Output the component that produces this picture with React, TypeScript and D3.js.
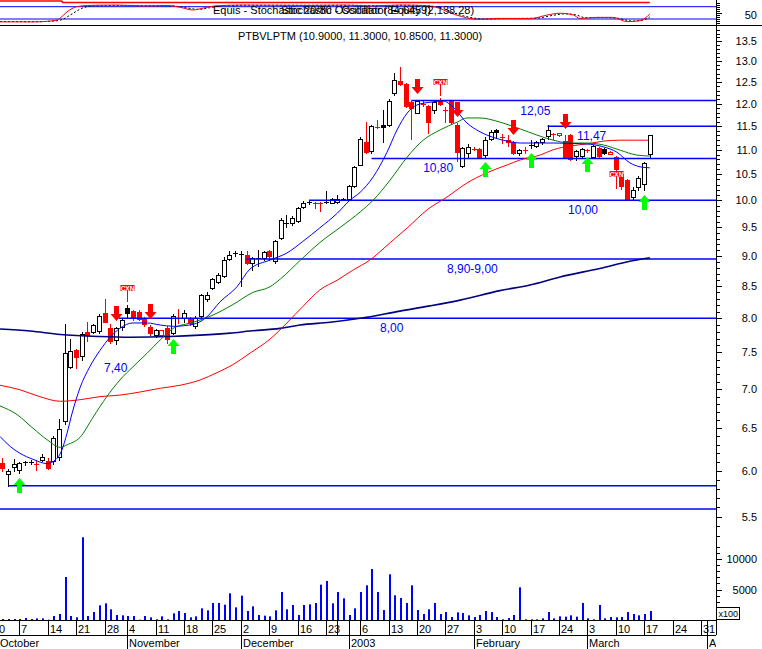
import React from 'react';
import * as d3 from 'd3';

const FONT = '"Liberation Sans", Arial, Helvetica, sans-serif';

// trading calendar
const calendarStart = '2002-09-30';
const calendarEnd = '2003-04-04';
const holidays = ['2002-11-01', '2002-12-24', '2002-12-25', '2002-12-26', '2003-01-01'];
const hiddenWeekLabels = ['2002-12-30'];
const firstBarIndex = 2; // 2002-10-02

const title = 'PTBVLPTM (10.9000, 11.3000, 10.8500, 11.3000)';
const stochTitle = 'Equis - Stochastic 20/80 - Oscillator Equity (2,138.28)';
const stochTitle2 = 'Stochastic Oscillator (84.6459)';
const monthNames = ['2003', 'February', 'March', 'April', 'May', 'June', 'July', 'August', 'September', 'October', 'November', 'December'];

const openP = [
  6.09, 5.97, 6.04, 6.01, 6.09, 6.10, 6.09, 6.12, 6.11,
  6.11, 6.15, 6.59, 7.30, 7.53, 7.45, 7.79, 7.80, 7.80, 8.08,
  7.85, 7.68, 7.88, 8.15, 8.11, 8.10, 7.99, 7.87, 7.75, 7.75,
  7.86, 7.78, 8.03, 8.00, 7.99, 7.88, 8.04, 8.30, 8.47, 8.57,
  8.67, 8.96, 9.04, 9.05, 9.02, 8.88, 8.96, 8.95, 9.08, 8.90,
  9.31, 9.59, 9.57, 9.62, 9.88, 9.95, 9.96, 9.96, 9.95, 9.96,
  9.97, 10.02, 10.03, 10.27, 10.70, 11.17, 10.96, 11.50, 11.53, 11.53,
  12.23, 12.53, 12.46, 12.04, 11.80, 12.02, 11.95, 11.86, 12.09, 11.87,
  12.06, 11.52, 10.67, 10.94, 11.03, 11.02, 10.89, 11.23, 11.42, 11.27,
  11.20, 11.17, 10.94, 11.00, 11.09, 11.08, 11.15, 11.30, 11.35, 11.30,
  11.19, 11.32, 10.86, 10.87, 11.00, 10.86, 11.03, 11.01, 10.92, 10.86,
  10.50, 10.39, 10.06, 10.24, 10.30, 10.90,
];
const highP = [
  6.14, 6.02, 6.13, 6.10, 6.11, 6.12, 6.12, 6.19, 6.14,
  6.40, 6.62, 7.92, 7.69, 7.55, 7.80, 7.95, 7.92, 8.07, 8.29,
  7.92, 7.87, 8.00, 8.20, 8.13, 8.12, 8.02, 7.90, 7.84, 7.83,
  7.88, 8.06, 8.14, 8.12, 8.02, 8.03, 8.38, 8.40, 8.63, 8.72,
  8.98, 9.09, 9.08, 9.08, 9.09, 8.98, 9.10, 9.08, 9.10, 9.27,
  9.66, 9.72, 9.70, 9.88, 9.98, 9.99, 9.97, 9.96, 10.17, 10.05,
  10.10, 10.05, 10.29, 10.66, 11.27, 11.60, 11.52, 11.63, 11.86, 12.10,
  12.71, 12.86, 12.48, 12.06, 12.08, 12.07, 11.98, 12.07, 12.12, 11.93,
  12.08, 11.57, 11.05, 11.12, 11.06, 11.04, 11.27, 11.42, 11.44, 11.33,
  11.30, 11.19, 11.02, 11.05, 11.20, 11.18, 11.24, 11.52, 11.36, 11.36,
  11.31, 11.34, 10.99, 11.03, 11.02, 11.10, 11.05, 11.03, 10.97, 10.87,
  10.55, 10.41, 10.26, 10.46, 10.74, 11.30,
];
const lowP = [
  6.00, 5.83, 6.00, 5.97, 6.06, 6.07, 6.01, 6.11, 6.02,
  6.08, 6.12, 6.55, 7.28, 7.29, 7.40, 7.66, 7.78, 7.78, 7.94,
  7.63, 7.62, 7.82, 8.02, 7.98, 7.97, 7.88, 7.75, 7.73, 7.74,
  7.64, 7.76, 7.93, 7.95, 7.90, 7.86, 8.02, 8.26, 8.45, 8.55,
  8.65, 8.94, 9.00, 8.51, 8.87, 8.76, 8.83, 8.93, 8.93, 8.88,
  9.29, 9.51, 9.55, 9.60, 9.86, 9.93, 9.85, 9.80, 9.94, 9.94,
  9.95, 10.00, 10.01, 10.25, 10.68, 10.94, 10.94, 11.45, 11.17, 11.50,
  12.20, 12.44, 11.92, 11.22, 11.78, 11.95, 11.35, 11.80, 11.98, 11.60,
  11.57, 10.77, 10.64, 10.84, 11.00, 10.84, 10.85, 11.20, 11.24, 11.15,
  11.07, 10.92, 10.90, 10.93, 11.03, 11.06, 11.13, 11.23, 11.22, 11.29,
  10.84, 10.79, 10.78, 10.85, 10.95, 10.84, 10.84, 10.91, 10.91, 10.24,
  10.22, 10.00, 10.03, 10.19, 10.19, 10.85,
];
const closeP = [
  6.03, 6.00, 6.08, 6.09, 6.10, 6.10, 6.08, 6.16, 6.03,
  6.38, 6.49, 7.49, 7.52, 7.43, 7.77, 7.75, 7.90, 8.03, 7.95,
  7.66, 7.85, 7.98, 8.07, 8.00, 7.99, 7.91, 7.78, 7.82, 7.82,
  7.70, 8.04, 8.01, 8.08, 7.93, 8.00, 8.36, 8.36, 8.61, 8.69,
  8.93, 9.02, 9.05, 9.04, 8.89, 8.96, 8.97, 9.06, 8.99, 9.25,
  9.63, 9.58, 9.66, 9.86, 9.95, 9.96, 9.95, 9.95, 9.96, 10.03,
  10.03, 10.03, 10.27, 10.64, 11.23, 10.96, 11.50, 11.48, 11.48, 12.06,
  12.54, 12.46, 11.95, 11.90, 12.06, 12.00, 11.59, 12.04, 12.00, 11.85,
  11.60, 10.94, 11.03, 11.06, 11.02, 10.86, 11.21, 11.37, 11.37, 11.26,
  11.15, 10.94, 11.00, 10.99, 11.10, 11.16, 11.22, 11.42, 11.34, 11.35,
  10.86, 10.81, 10.97, 11.01, 10.99, 11.08, 10.86, 10.93, 10.96, 10.62,
  10.26, 10.03, 10.20, 10.42, 10.72, 11.30,
];
// 1 = bar painted red by the expert
const highlighted = [
  1, 0, 0, 0, 0, 0, 1, 0, 1,
  0, 0, 0, 0, 1, 0, 1, 0, 0, 1,
  1, 0, 0, 0, 1, 1, 1, 1, 0, 1,
  1, 0, 1, 0, 1, 0, 0, 0, 0, 0,
  0, 0, 0, 0, 1, 0, 0, 0, 1, 0,
  0, 0, 0, 0, 0, 0, 1, 1, 0, 0,
  0, 0, 0, 0, 0, 1, 0, 1, 0, 0,
  0, 1, 1, 1, 0, 1, 1, 0, 1, 1,
  1, 1, 0, 0, 1, 1, 0, 0, 0, 1,
  1, 1, 0, 1, 0, 0, 0, 0, 1, 1,
  1, 1, 0, 0, 1, 0, 1, 0, 1, 1,
  1, 1, 0, 0, 0, 0,
];
// volume, x100
const volume = [
  164, 164, 164, 164, 328, 164, 273, 273, 50,
  656, 984, 7052, 656, 437, 13563, 656, 1312, 2405, 2733,
  1750, 820, 765, 656, 656, 50, 656, 437, 109, 601,
  109, 1093, 1476, 1148, 437, 601, 1913, 1585, 2788, 2788,
  2515, 4373, 2077, 3990, 1476, 2241, 820, 710, 601, 1585,
  4592, 1750, 2460, 820, 2460, 2570, 2788, 5795, 6396, 2733,
  4592, 3553, 820, 1913, 4592, 5685, 8364, 4592, 1640, 7490,
  4046, 3608, 2788, 5685, 1640, 984, 1750, 2788, 984, 1312,
  492, 1257, 1148, 765, 492, 820, 1476, 1312, 492, 109,
  328, 820, 5357, 109, 109, 109, 273, 1312, 273, 601,
  546, 765, 546, 2788, 273, 109, 2460, 273, 492, 437,
  492, 1312, 984, 765, 984, 1476,
];

const buySignals = [5, 32, 87, 95, 105, 115];
const sellSignals = [22, 28, 75, 82, 92, 101];
const cxnDays = [24, 79, 110];
const cxnPrices = [8.47, 12.5, 10.51];

// moving averages: [trading day, price]
const maFast = [[1.6, 6.40], [3.4, 6.28], [5.1, 6.20], [7.4, 6.13], [9.9, 6.08], [11.3, 6.12], [12.5, 6.24], [13.4, 6.44], [14.3, 6.69], [15.7, 7.02], [17.4, 7.30], [19.2, 7.53], [21, 7.72], [22.7, 7.85], [25, 7.93], [27.5, 7.93], [29.8, 7.90], [32.1, 7.88], [35.6, 7.91], [38, 8.02], [40.3, 8.25], [43.3, 8.49], [45.6, 8.78], [49.1, 8.93], [52.1, 9.05], [54.9, 9.25], [57.9, 9.49], [61, 9.76], [63.2, 10.0], [65, 10.15], [67.3, 10.45], [69.7, 10.94], [71.5, 11.42], [73.3, 11.79], [75, 11.97], [77.8, 12.04], [79.6, 12.06], [81.4, 11.92], [83.8, 11.57], [86.1, 11.38], [88.4, 11.26], [90.9, 11.18], [93.2, 11.14], [99, 11.14], [104.9, 11.12], [107.8, 11.06], [110.2, 10.95], [112.5, 10.73], [114.3, 10.65], [116, 10.63]];
const maMid = [[1.6, 6.78], [4.6, 6.67], [7.4, 6.50], [9.9, 6.36], [12.2, 6.27], [13.4, 6.30], [15.7, 6.39], [18, 6.64], [20.4, 6.90], [22.7, 7.12], [25, 7.30], [27.5, 7.49], [29.8, 7.68], [32.1, 7.85], [35.6, 7.94], [39.1, 8.05], [42.6, 8.21], [46.1, 8.40], [49.1, 8.49], [51, 8.62], [54.5, 8.93], [57.9, 9.23], [61.5, 9.50], [65, 9.78], [67.3, 10.0], [70.3, 10.39], [73.3, 10.85], [76.1, 11.20], [79.1, 11.42], [82.1, 11.59], [83.8, 11.68], [86.1, 11.68], [89.6, 11.59], [93.2, 11.44], [96.1, 11.31], [99, 11.20], [102, 11.14], [104.9, 11.14], [107.8, 11.10], [110.8, 10.99], [113.7, 10.89], [116, 10.87]];
const maSlow = [[1.6, 7.05], [5.1, 6.99], [8.6, 6.90], [12.2, 6.84], [15.7, 6.86], [19.2, 6.90], [22.7, 6.92], [26.2, 6.96], [29.8, 7.01], [33.3, 7.05], [36.8, 7.12], [39.8, 7.22], [42.6, 7.33], [45.6, 7.49], [49.1, 7.69], [52.1, 7.93], [54.9, 8.18], [57.9, 8.44], [61, 8.60], [63.7, 8.76], [66.7, 8.93], [70.3, 9.23], [73.3, 9.49], [76.8, 9.82], [80.3, 10.06], [83.8, 10.33], [87.3, 10.53], [90.9, 10.69], [93.2, 10.79], [96.7, 10.89], [99, 11.0], [102, 11.08], [104.9, 11.12], [107.8, 11.18], [110.8, 11.20], [115.7, 11.20]];
const maLong = [[1.6, 7.84], [6.9, 7.81], [12.2, 7.76], [19.2, 7.73], [24.5, 7.72], [31.5, 7.73], [36.8, 7.75], [42.1, 7.78], [45.6, 7.81], [50.9, 7.85], [54.4, 7.90], [59.7, 7.94], [65, 8.0], [72, 8.11], [77.3, 8.19], [82.6, 8.28], [89.6, 8.43], [94.9, 8.52], [100.2, 8.65], [107.2, 8.79], [112.5, 8.91], [116, 8.97]];

// stochastic panel: [trading day, value]
const stochK = [[1.6, 6], [8, 6], [10, 9], [11.5, 14], [12.2, 25], [13.4, 55], [15.1, 80], [17, 86], [22, 88], [27, 84], [31, 86], [33.5, 76], [35.5, 64], [37.5, 74], [39.5, 84], [44, 88], [50, 87], [56, 86], [62, 88], [67, 84], [72, 88], [76, 86], [79, 72], [80.3, 56], [83, 31], [86, 18], [89, 23], [95, 22], [98, 40], [100.2, 48], [102.5, 40], [103.7, 23], [106.7, 28], [109.5, 28], [112, 7], [114.3, 12], [116, 44]];
const stochD = [[1.6, 8], [8, 7], [11, 10], [12.5, 17], [14, 40], [16, 72], [18, 84], [23, 86], [28, 85], [32, 84], [34.5, 74], [36.5, 67], [38.5, 75], [40.5, 84], [45, 87], [55, 87], [63, 87], [68, 85], [73, 87], [77, 84], [80, 68], [81.5, 50], [84, 30], [87, 20], [90, 22], [96, 24], [99, 38], [101, 45], [103, 40], [104.7, 26], [107.5, 27], [110, 25], [113, 10], [115, 16], [116, 30]];
const equityTop = [[1.6, 108], [12.5, 108], [12.6, 100.5], [116, 100.5]];

// support / resistance levels
const levelPrices = [12.07, 11.5, 10.82, 10.0, 8.95, 8.0, 5.83, 5.58];
const levelFrom = [74, 98, 67, 56, 45, 22.5, 3, 1.6];
const levelLabels = ['12,05', '11,47', '10,80', '10,00', '8,90-9,00', '8,00', '', ''];
const extraLabel = '7,40';
const extraLabelPrice = 7.4;

const priceLabels = [13.5, 13.0, 12.5, 12.0, 11.5, 11.0, 10.5, 10.0, 9.5, 9.0, 8.5, 8.0, 7.5, 7.0, 6.5, 6.0, 5.5];
const volumeLabels = [10000, 5000];

const isoDay = d3.utcFormat('%Y-%m-%d');
const tradingDays = d3.utcDay
  .range(new Date(calendarStart), d3.utcDay.offset(new Date(calendarEnd), 1))
  .filter(d => d.getUTCDay() % 6 !== 0 && !holidays.includes(isoDay(d)));

const AXIS_X = 716;
const levelLabelAt = [93.2, 103.2, 76.1, 101.6, 80.3, 68.5];
const extraLabelAt = 19.9;

function arrowPath(cx: number, tip: number, dir: number) {
  // dir = 1 down arrow (tip at bottom), -1 up arrow
  const s = dir;
  return `M${cx - 2},${tip - 15 * s} H${cx + 3} V${tip - 7 * s} H${cx + 6.5} L${cx + 0.5},${tip} L${cx - 5.5},${tip - 7 * s} H${cx - 2} Z`;
}

export default function App() {
  const x = d3.scaleLinear().domain([2, 116]).range([2.3, 649.8]);
  const y = d3.scaleLog().domain([5.5, 13.5]).range([516.7, 41.3]);
  const yv = d3.scaleLinear().domain([0, 10000]).range([620, 559]);
  const ys = d3.scaleLinear().domain([20, 80]).range([19, 6.7]);
  const px = (i: number) => Math.round(x(i));

  const bars = openP.map((o, k) => ({
    i: firstBarIndex + k, o, h: highP[k], l: lowP[k], c: closeP[k], v: volume[k], red: highlighted[k] === 1,
  }));
  const barAt = (i: number) => bars[i - firstBarIndex];

  const priceLine = d3.line<number[]>().x(d => x(d[0])).y(d => y(d[1])).curve(d3.curveMonotoneX);
  const stochLine = d3.line<number[]>().x(d => x(d[0])).y(d => ys(d[1])).curve(d3.curveMonotoneX);

  const weekStarts = tradingDays.map((d, k) => k).filter(k => k === 0 ||
    d3.utcMonday.floor(tradingDays[k]).getTime() !== d3.utcMonday.floor(tradingDays[k - 1]).getTime());
  const monthStarts = tradingDays.map((d, k) => k).filter(k => k > 0 &&
    tradingDays[k].getUTCMonth() !== tradingDays[k - 1].getUTCMonth());

  const priceTicks = d3.range(53, 139).map(v => v / 10);
  const volTicks = d3.range(1000, 13000, 1000);
  const stochTicks = d3.range(0, 101, 10);

  return (
    <svg width={762} height={649} style={{ position: 'absolute', left: 0, top: 0, background: '#fff' }}
      fontFamily={FONT} fontSize={11}>
      <defs>
        <clipPath id="plotClip"><rect x={0} y={0} width={AXIS_X} height={649} /></clipPath>
        <clipPath id="priceClip"><rect x={0} y={26} width={AXIS_X} height={600} /></clipPath>
      </defs>
      <rect x={0} y={0} width={762} height={649} fill="#fff" />

      {/* stochastic panel */}
      <g clipPath="url(#plotClip)">
        <path d={stochLine(equityTop) || ''} fill="none" stroke="#ff0000" strokeWidth={1.5} />
        <line x1={0} x2={AXIS_X} y1={ys(80)} y2={ys(80)} stroke="#0000ff" />
        <line x1={0} x2={AXIS_X} y1={ys(20)} y2={ys(20)} stroke="#0000ff" />
        <path d={stochLine(stochD) || ''} fill="none" stroke="#000" strokeDasharray="2 2" />
        <path d={stochLine(stochK) || ''} fill="none" stroke="#ff0000" />
        <text x={213} y={14} fill="#000">{stochTitle}</text>
        <text x={281} y={14} fill="#000">{stochTitle2}</text>
      </g>
      <line x1={0} x2={762} y1={25.5} y2={25.5} stroke="#000" />
      {stochTicks.map(v => (
        <line key={'st' + v} x1={AXIS_X} x2={AXIS_X + (v === 50 ? 6 : 4)} y1={Math.round(ys(v)) + 0.5} y2={Math.round(ys(v)) + 0.5} stroke="#000" />
      ))}
      <text x={757} y={19} textAnchor="end" fill="#000">50</text>

      {/* title */}
      <text x={360} y={40} textAnchor="middle" fill="#000">{title}</text>

      <g clipPath="url(#priceClip)">
        {/* volume */}
        {bars.map(b => (
          <rect key={'v' + b.i} x={px(b.i)} y={yv(b.v)} width={2} height={620 - yv(b.v)} fill="#0000ff" />
        ))}

        {/* candles */}
        {bars.map(b => {
          const cx = px(b.i);
          const col = b.red ? '#ff0000' : '#000000';
          const yo = y(b.o), yc = y(b.c);
          const top = Math.min(yo, yc), bot = Math.max(yo, yc);
          const up = b.c > b.o;
          let body;
          if (bot - top < 1.5) {
            body = <line x1={cx - 2} x2={cx + 3} y1={Math.round(yc) + 0.5} y2={Math.round(yc) + 0.5} stroke={col} />;
          } else if (up) {
            body = <rect x={cx - 1.5} y={Math.round(top) + 0.5} width={4} height={Math.round(bot - top)} fill="#fff" stroke={col} />;
          } else {
            body = <rect x={cx - 2} y={Math.round(top)} width={5} height={Math.round(bot - top) + 1} fill={col} />;
          }
          return (
            <g key={'c' + b.i}>
              <line x1={cx + 0.5} x2={cx + 0.5} y1={Math.round(y(b.h))} y2={Math.round(y(b.l)) + 1} stroke={col} />
              {body}
            </g>
          );
        })}

        {/* levels */}
        {levelPrices.map((p, k) => (
          <line key={'lv' + k} x1={x(levelFrom[k])} x2={AXIS_X} y1={y(p)} y2={y(p)} stroke="#0000ff" strokeWidth={1.5} />
        ))}
        {levelLabels.map((t, k) => t ? (
          <text key={'ll' + k} x={x(levelLabelAt[k])} y={y(levelPrices[k]) + 14} fill="#0000ff" fontSize={12}>{t}</text>
        ) : null)}
        <text x={x(extraLabelAt)} y={y(extraLabelPrice) + 12} fill="#0000ff" fontSize={12}>{extraLabel}</text>

        {/* moving averages */}
        <path d={priceLine(maLong) || ''} fill="none" stroke="#000080" strokeWidth={1.6} />
        <path d={priceLine(maSlow) || ''} fill="none" stroke="#ff0000" />
        <path d={priceLine(maMid) || ''} fill="none" stroke="#008000" />
        <path d={priceLine(maFast) || ''} fill="none" stroke="#0000ff" />

        {/* signals */}
        {sellSignals.map(i => (
          <path key={'s' + i} d={arrowPath(px(i), Math.round(y(barAt(i).h)) - 6, 1)} fill="#ff0000" />
        ))}
        {buySignals.map(i => (
          <path key={'b' + i} d={arrowPath(px(i), Math.round(y(barAt(i).l)) + 5, -1)} fill="#00ff00" />
        ))}
        {cxnDays.map((i, k) => {
          const cx = px(i) + 0.5;
          const cy = Math.round(y(cxnPrices[k]));
          return (
            <g key={'x' + i}>
              <line x1={cx} x2={cx} y1={cy + 3} y2={cy + 14} stroke="#ff0000" />
              <rect x={cx - 7} y={cy - 3} width={14} height={6} fill="#ff0000" />
              <text x={cx} y={cy + 2.5} textAnchor="middle" fontSize={6.5} fill="#fff" fontWeight="bold">CXN</text>
            </g>
          );
        })}
      </g>

      {/* right axis */}
      <line x1={AXIS_X + 0.5} x2={AXIS_X + 0.5} y1={0} y2={635} stroke="#000" />
      {priceTicks.map(v => {
        const major = Math.round(v * 10) % 5 === 0;
        const yy = Math.round(y(v)) + 0.5;
        return <line key={'pt' + v} x1={AXIS_X} x2={AXIS_X + (major ? 6 : 4)} y1={yy} y2={yy} stroke="#000" />;
      })}
      {priceLabels.map(v => (
        <text key={'pl' + v} x={757} y={y(v) + 4} textAnchor="end" fill="#000">{v.toFixed(1)}</text>
      ))}
      {volTicks.map(v => {
        const yy = Math.round(yv(v)) + 0.5;
        return <line key={'vt' + v} x1={AXIS_X} x2={AXIS_X + (v % 5000 === 0 ? 6 : 4)} y1={yy} y2={yy} stroke="#000" />;
      })}
      {volumeLabels.map(v => (
        <text key={'vl' + v} x={757} y={yv(v) + 4} textAnchor="end" fill="#000">{v}</text>
      ))}
      <rect x={AXIS_X + 0.5} y={607.5} width={23} height={12} fill="#fff" stroke="#000" />
      <text x={AXIS_X + 2.5} y={617} fontSize={9} fill="#000">x100</text>

      {/* date axis */}
      <line x1={0} x2={AXIS_X} y1={620.5} y2={620.5} stroke="#000" />
      <line x1={0} x2={AXIS_X} y1={635.5} y2={635.5} stroke="#000" />
      <g clipPath="url(#plotClip)">
        {weekStarts.map(k => {
          const xx = px(k) + 0.5;
          const d = tradingDays[k];
          return (
            <g key={'w' + k}>
              <line x1={xx} x2={xx} y1={620} y2={635} stroke="#000" />
              {hiddenWeekLabels.includes(isoDay(d)) ? null : (
                <text x={xx + 1.5} y={633} fill="#000">{d.getUTCDate()}</text>
              )}
            </g>
          );
        })}
        <text x={0} y={647} fill="#000">October</text>
        {monthStarts.filter(k => tradingDays[k].getUTCMonth() !== 9).map(k => {
          const xx = px(k) + 0.5;
          return (
            <g key={'m' + k}>
              <line x1={xx} x2={xx} y1={620} y2={649} stroke="#000" />
              <text x={xx + 1.5} y={647} fill="#000">{monthNames[tradingDays[k].getUTCMonth()]}</text>
            </g>
          );
        })}
      </g>
    </svg>
  );
}
